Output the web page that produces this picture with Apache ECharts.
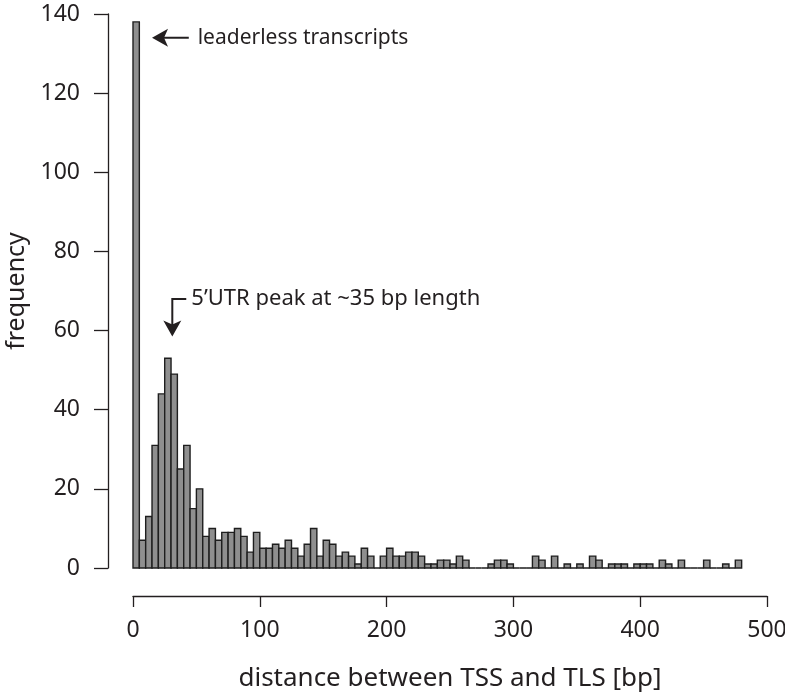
<!DOCTYPE html>
<html>
<head>
<meta charset="utf-8">
<script src="https://cdn.jsdelivr.net/npm/echarts@6/dist/echarts.min.js"></script>
<style>
  html, body { margin: 0; padding: 0; background: #fff; }
  #chart { width: 785px; height: 693px; }
</style>
</head>
<body>
<div id="chart"></div>
<script>
// Histogram of TSS-to-TLS distances, 5 bp bins from 0 to 480 bp
const binWidth = 5;
const counts = [
  138, 7, 13, 31, 44, 53, 49, 25, 31, 15,
  20, 8, 10, 7, 9, 9, 10, 8, 4, 9,
  5, 5, 6, 5, 7, 5, 3, 6, 10, 3,
  7, 6, 3, 4, 3, 1, 5, 3, 0, 3,
  5, 3, 3, 4, 4, 3, 1, 1, 2, 2,
  1, 3, 2, 0, 0, 0, 1, 2, 2, 1,
  0, 0, 0, 3, 2, 0, 3, 0, 1, 0,
  1, 0, 3, 2, 0, 1, 1, 1, 0, 1,
  1, 1, 0, 2, 1, 0, 2, 0, 0, 0,
  2, 0, 0, 1, 0, 2
];
const xTicks = [0, 100, 200, 300, 400, 500];
const yTicks = [0, 20, 40, 60, 80, 100, 120, 140];

const textColor = '#231f20';
const fontFamily = '"Noto Sans", "Open Sans", sans-serif';

const histData = counts.map((c, i) => [i * binWidth, (i + 1) * binWidth, c]);

const chart = echarts.init(document.getElementById('chart'), null, { renderer: 'canvas' });

const option = {
  animation: false,
  backgroundColor: '#ffffff',
  grid: { left: 133, right: 18, top: 14, bottom: 125, containLabel: false, outerBoundsMode: 'none' },
  xAxis: {
    type: 'value',
    min: xTicks[0],
    max: xTicks[xTicks.length - 1],
    interval: 100,
    offset: 28,
    name: 'distance between TSS and TLS [bp]',
    nameLocation: 'middle',
    nameGap: 70,
    nameTextStyle: { color: textColor, fontSize: 26, fontFamily },
    axisLine: { show: true, onZero: false, lineStyle: { color: textColor, width: 1.3 } },
    axisTick: { show: true, length: 11, lineStyle: { color: textColor, width: 1.3 } },
    axisLabel: { color: textColor, fontSize: 23, fontFamily, margin: 23 },
    splitLine: { show: false }
  },
  yAxis: {
    type: 'value',
    min: yTicks[0],
    max: yTicks[yTicks.length - 1],
    interval: 20,
    offset: 25,
    name: 'frequency',
    nameLocation: 'middle',
    nameGap: 75,
    nameRotate: 90,
    nameTextStyle: { color: textColor, fontSize: 25, fontFamily },
    axisLine: { show: true, onZero: false, lineStyle: { color: textColor, width: 1.3 } },
    axisTick: { show: true, length: 14, lineStyle: { color: textColor, width: 1.3 } },
    axisLabel: { color: textColor, fontSize: 23, fontFamily, margin: 28 },
    splitLine: { show: false }
  },
  series: [{
    type: 'custom',
    data: histData,
    encode: { x: [0, 1], y: 2 },
    renderItem: function (params, api) {
      const p0 = api.coord([api.value(0), 0]);
      const p1 = api.coord([api.value(1), api.value(2)]);
      return {
        type: 'rect',
        shape: { x: p0[0], y: p1[1], width: p1[0] - p0[0], height: p0[1] - p1[1] },
        style: { fill: '#8f8f8f', stroke: '#1e1e1e', lineWidth: 1.4 }
      };
    }
  }]
};

chart.setOption(option);

// Annotation arrows and text, placed in data coordinates
function px(x, y) { return chart.convertToPixel({ gridIndex: 0 }, [x, y]); }

const a1Tip = px(15, 134);
const a1Tail = px(44, 134);
const t1 = px(51, 134);

const a2Corner = px(31, 68);
const a2Tip = px(31, 58.5);
const a2End = px(42, 68);
const t2 = px(46, 68);

const head = 9;      // arrowhead half-width
const headLen = 13;  // arrowhead length

chart.setOption({
  graphic: [
    // leaderless transcripts arrow
    { type: 'line', shape: { x1: a1Tip[0] + headLen - 2, y1: a1Tip[1], x2: a1Tail[0], y2: a1Tail[1] },
      style: { stroke: textColor, lineWidth: 2 } },
    { type: 'polygon', shape: { points: [
        [a1Tip[0], a1Tip[1]],
        [a1Tip[0] + headLen + 3, a1Tip[1] - head],
        [a1Tip[0] + headLen - 1, a1Tip[1]],
        [a1Tip[0] + headLen + 3, a1Tip[1] + head]
      ] }, style: { fill: textColor } },
    { type: 'text', x: t1[0], y: t1[1],
      style: { text: 'leaderless transcripts', fill: textColor, font: '21px ' + fontFamily,
               textVerticalAlign: 'middle', verticalAlign: 'middle' } },

    // 5'UTR peak bracket arrow
    { type: 'polyline', shape: { points: [
        [a2End[0], a2End[1]], [a2Corner[0], a2Corner[1]], [a2Tip[0], a2Tip[1] - headLen + 2]
      ] }, style: { stroke: textColor, lineWidth: 2, fill: null } },
    { type: 'polygon', shape: { points: [
        [a2Tip[0], a2Tip[1]],
        [a2Tip[0] - head, a2Tip[1] - headLen - 3],
        [a2Tip[0], a2Tip[1] - headLen + 1],
        [a2Tip[0] + head, a2Tip[1] - headLen - 3]
      ] }, style: { fill: textColor } },
    { type: 'text', x: t2[0], y: t2[1],
      style: { text: '5\u2019UTR peak at ~35 bp length', fill: textColor, font: '22px ' + fontFamily,
               textVerticalAlign: 'middle', verticalAlign: 'middle' } }
  ]
});
</script>
</body>
</html>
